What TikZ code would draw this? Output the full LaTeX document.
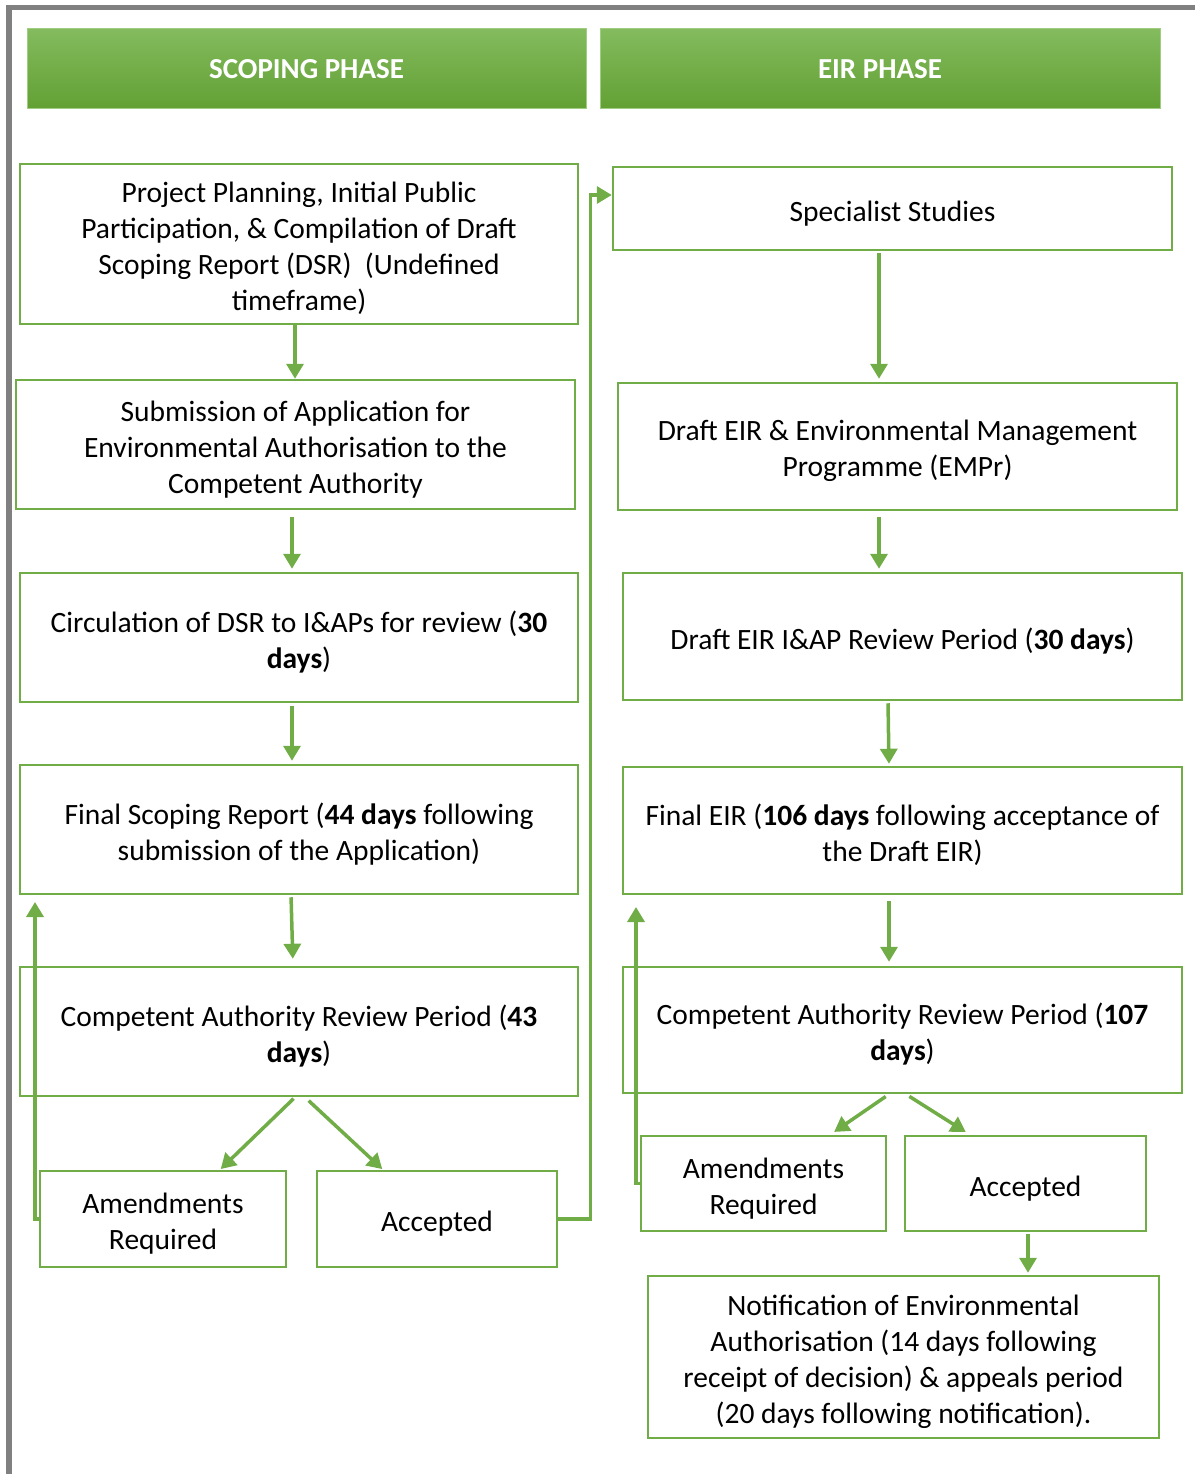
\documentclass[tikz,border=0pt]{standalone}
\usepackage{fontspec}
\setmainfont{Carlito}
\usetikzlibrary{arrows.meta,calc}
\definecolor{gr}{RGB}{112,173,71}
\definecolor{htop}{RGB}{131,187,94}
\definecolor{hbot}{RGB}{98,160,51}
\definecolor{hline}{RGB}{160,205,130}
\definecolor{framegray}{RGB}{128,128,128}
\newcommand{\topstrut}{\rule{0pt}{30pt}}
\begin{document}
\begin{tikzpicture}[x=1pt,y=-1pt,
  box/.style={draw=gr,line width=2.5pt,align=center,inner sep=0pt,font=\fontsize{29.5}{36}\selectfont},
  hdr/.style={draw=hline,line width=1pt,top color=htop,bottom color=hbot,text=white,inner sep=0pt,font=\fontsize{29}{30}\selectfont\bfseries},
  arr/.style={draw=gr,line width=3.5pt,-{Triangle[length=15pt,width=17pt]}}]
\useasboundingbox (0,0) rectangle (1195,1474);
% frame
\fill[framegray] (6,5) rectangle (1195,10);
\fill[framegray] (6,5) rectangle (12,1474);
% headers
\node[hdr,minimum width=559pt,minimum height=80pt] (h1) at (306.5,69) {SCOPING PHASE};
\node[hdr,minimum width=560pt,minimum height=80pt] (h2) at (880,69) {EIR PHASE};
% left column
\node[box,minimum width=558pt,minimum height=160pt] (b1) at (299,244) {\topstrut Project Planning, Initial Public\\Participation, \& Compilation of Draft\\Scoping Report (DSR)~~(Undefined\\timeframe)};
\node[box,minimum width=559pt,minimum height=129pt] (b2) at (295.5,444.5) {\topstrut Submission of Application for\\Environmental Authorisation to the\\Competent Authority};
\node[box,minimum width=558pt,minimum height=129pt] (b3) at (299,637.5) {\topstrut Circulation of DSR to I\&APs for review (\textbf{30}\\\textbf{days})};
\node[box,minimum width=558pt,minimum height=129pt] (b4) at (299,829.5) {\topstrut Final Scoping Report (\textbf{44 days} following\\submission of the Application)};
\node[box,minimum width=558pt,minimum height=129pt] (b5) at (299,1031.5) {\topstrut Competent Authority Review Period (\textbf{43}\\\textbf{days})};
\node[box,minimum width=246pt,minimum height=96pt] (a1) at (163,1219) {\topstrut Amendments\\Required};
\node[box,minimum width=240pt,minimum height=96pt] (acc1) at (437,1219) {\topstrut Accepted};
% right column
\node[box,minimum width=559pt,minimum height=83pt] (r1) at (892.5,208.5) {\topstrut Specialist Studies};
\node[box,minimum width=559pt,minimum height=127pt] (r2) at (897.5,446.5) {\topstrut Draft EIR \& Environmental Management\\Programme (EMPr)};
\node[box,minimum width=559pt,minimum height=127pt] (r3) at (902.5,636.5) {\topstrut Draft EIR I\&AP Review Period (\textbf{30 days})};
\node[box,minimum width=559pt,minimum height=127pt] (r4) at (902.5,830.5) {\topstrut Final EIR (\textbf{106 days} following acceptance of\\the Draft EIR)};
\node[box,minimum width=559pt,minimum height=126pt] (r5) at (902.5,1030) {\topstrut Competent Authority Review Period (\textbf{107}\\\textbf{days})};
\node[box,minimum width=245pt,minimum height=95pt] (a2) at (763.5,1183.5) {\topstrut Amendments\\Required};
\node[box,minimum width=241pt,minimum height=95pt] (acc2) at (1025.5,1183.5) {\topstrut Accepted};
\node[box,minimum width=511pt,minimum height=162pt] (r6) at (903.5,1357) {\topstrut Notification of Environmental\\Authorisation (14 days following\\receipt of decision) \& appeals period\\(20 days following notification).};
% free ends of feedback arrows
\coordinate (fb1) at (35,902);
\coordinate (fb2) at (636,907);
% left connectors
\draw[arr] ([xshift=-4pt]b1.south) -- ([xshift=-4pt]b1.south |- b2.north);
\draw[arr,shorten <=7pt,shorten >=3pt] ([xshift=-3.5pt]b2.south) -- ([xshift=-3.5pt]b2.south |- b3.north);
\draw[arr,shorten <=3pt,shorten >=3pt] ([xshift=-7pt]b3.south) -- ([xshift=-7pt]b3.south |- b4.north);
\draw[arr,shorten <=2pt,shorten >=7pt] ([xshift=-8pt]b4.south) -- ([xshift=-6pt]b5.north);
\draw[arr,shorten <=2pt,shorten >=1pt] ([xshift=-4pt]b5.south) -- ([xshift=57pt]a1.north);
\draw[arr,shorten <=5pt,shorten >=1pt] ([xshift=6pt]b5.south) -- ([xshift=-54pt]acc1.north);
\draw[arr] (a1.west) -| (fb1);
\draw[arr] (acc1.east) -- ++(32,0) |- ([yshift=13.5pt]r1.west);
% right connectors
\draw[arr,shorten <=2pt,shorten >=3pt] ([xshift=-13.5pt]r1.south) -- ([xshift=-13.5pt]r1.south |- r2.north);
\draw[arr,shorten <=6pt,shorten >=3pt] ([xshift=-18.5pt]r2.south) -- ([xshift=-18.5pt]r2.south |- r3.north);
\draw[arr,shorten <=2pt,shorten >=2pt] ([xshift=-14.5pt]r3.south) -- ([xshift=-13.5pt]r4.north);
\draw[arr,shorten <=6pt,shorten >=4pt] ([xshift=-13.5pt]r4.south) -- ([xshift=-13.5pt]r4.south |- r5.north);
\draw[arr,shorten <=4pt,shorten >=5pt] ([xshift=-13.5pt]r5.south) -- ([xshift=66.5pt]a2.north);
\draw[arr,shorten <=4pt,shorten >=5pt] ([xshift=3.5pt]r5.south) -- ([xshift=-55.5pt]acc2.north);
\draw[arr] (a2.west) -| (fb2);
\draw[arr,shorten <=2pt,shorten >=2pt] ([xshift=2.5pt]acc2.south) -- ([xshift=2.5pt]acc2.south |- r6.north);
\end{tikzpicture}
\end{document}
